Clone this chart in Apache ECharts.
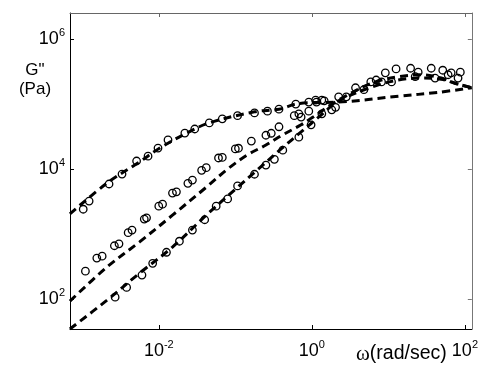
<!DOCTYPE html>
<html>
<head>
<meta charset="utf-8">
<script src="https://cdn.jsdelivr.net/npm/echarts@6/dist/echarts.min.js"></script>
<style>html,body{margin:0;padding:0;background:#fff;}#c{width:481px;height:369px;}</style>
</head>
<body>
<div id="c"></div>
<script>
// ---- data (ω in rad/s, G'' in Pa) ----
const omegaLineA = [6.9e-4, 2.09e-3, 5.62e-3, 0.0102, 0.0229, 0.0457, 0.178, 0.372, 0.617, 1.0, 2.24, 13.5, 44.7, 123];
const gLineA     = [2040, 6030, 12900, 20900, 35500, 51300, 75900, 83200, 100000, 105000, 107000, 132000, 151000, 178000];

const omegaLineB = [6.9e-4, 2.09e-3, 5.62e-3, 0.0151, 0.0417, 0.0794, 0.145, 0.251, 0.407, 0.724, 0.977, 2.24, 6.03, 13.5, 26.9, 49, 74, 123];
const gLineB     = [93, 309, 759, 1950, 5250, 10000, 16600, 23400, 33100, 47900, 60300, 115000, 209000, 263000, 282000, 251000, 209000, 178000];

const omegaLineC = [6.9e-4, 2.09e-3, 5.62e-3, 0.0151, 0.0417, 0.107, 0.178, 0.407, 0.724, 1.32, 2.24, 6.03, 13.5, 26.9, 49, 74, 123];
const gLineC     = [34.7, 95.5, 251, 631, 1950, 5250, 8900, 20900, 37200, 67600, 112000, 182000, 234000, 251000, 240000, 209000, 178000];

const omegaPtsA = [1.03e-3, 1.23e-3, 2.24e-3, 3.31e-3, 5.13e-3, 7.24e-3, 9.77e-3, 0.0132, 0.0219, 0.0295, 0.0457, 0.0676, 0.107, 0.178, 0.263, 0.372, 0.617, 0.912, 1.15, 1.45, 2.24, 3.72, 8.13, 11.0, 22.4, 40.7, 81.3];
const gPtsA     = [2410, 3220, 5890, 8380, 13300, 15800, 21000, 28000, 35700, 41300, 51300, 59300, 66100, 72900, 77600, 83200, 100000, 107000, 107000, 112000, 129000, 178000, 219000, 219000, 263000, 251000, 251000];

const omegaPtsB = [1.10e-3, 1.55e-3, 1.82e-3, 2.63e-3, 3.02e-3, 3.98e-3, 4.47e-3, 6.46e-3, 6.92e-3, 0.0100, 0.0112, 0.0151, 0.0170, 0.0240, 0.0275, 0.0363, 0.0417, 0.0603, 0.0676, 0.100, 0.110, 0.162, 0.251, 0.295, 0.372, 0.589, 0.676, 0.912, 1.12, 1.35, 1.82, 5.89, 9.12, 19.5, 36.3, 60.3, 87.1];
const gPtsB     = [269, 427, 457, 661, 708, 1050, 1150, 1700, 1780, 2690, 2880, 4270, 4470, 6030, 6760, 9550, 10500, 14800, 15100, 20400, 20900, 26900, 33100, 35500, 44700, 66100, 70800, 77600, 115000, 115000, 81300, 219000, 302000, 355000, 355000, 282000, 309000];

const omegaPtsC = [2.69e-3, 3.80e-3, 6.03e-3, 8.32e-3, 0.0126, 0.0186, 0.0275, 0.0398, 0.0562, 0.0794, 0.107, 0.178, 0.251, 0.324, 0.417, 0.676, 0.724, 0.977, 1.35, 2.04, 2.82, 4.79, 6.92, 12.6, 24.5, 51.3, 66.1];
const gPtsC     = [107, 151, 234, 355, 525, 776, 1150, 1660, 2690, 3470, 5500, 8320, 11500, 14100, 19500, 30900, 63100, 47900, 70800, 89100, 129000, 166000, 234000, 347000, 309000, 331000, 302000];

// tick labels (decade exponents)
const xTickExps = [-2, 0, 2];
const yTickExps = [2, 4, 6];

// ---- helpers ----
const L = v => Math.log10(v);
const pairs = (xs, ys) => xs.map((x, i) => [L(x), L(ys[i])]);

const FONT = "'Liberation Sans', Arial, sans-serif";
const supRich = {
  b: { fontSize: 18, lineHeight: 24, fontFamily: FONT, color: '#000' },
  s: { fontSize: 11, lineHeight: 4, verticalAlign: 'top', fontFamily: FONT, color: '#000' }
};
const pow10 = v => '{b|10}{s|' + Math.round(v) + '}';

const xMin = -3.16, xMax = 2.09, yMin = 1.54, yMax = 6.4;

const lineStyle = { color: '#000', width: 3, type: [8, 5] };
const dashed = (xs, ys) => ({
  type: 'line', data: pairs(xs, ys), showSymbol: false, smooth: 0.35,
  lineStyle: lineStyle, xAxisIndex: 0, yAxisIndex: 0, z: 2
});
const pts = (xs, ys) => ({
  type: 'scatter', data: pairs(xs, ys), symbol: 'circle', symbolSize: 7.5,
  itemStyle: { color: 'rgba(0,0,0,0)', borderColor: '#000', borderWidth: 1.3, opacity: 1 },
  xAxisIndex: 0, yAxisIndex: 0, z: 3
});

const chart = echarts.init(document.getElementById('c'), null, { renderer: 'canvas' });
chart.setOption({
  animation: false,
  backgroundColor: '#fff',
  grid: { left: 70, right: 7, top: 13, bottom: 40, containLabel: false },
  xAxis: [{
    type: 'value', min: xMin, max: xMax, position: 'bottom',
    axisLine: { onZero: false, lineStyle: { color: '#000', width: 1 } },
    axisTick: { inside: true, length: 4, customValues: xTickExps, lineStyle: { color: '#000' } },
    axisLabel: { customValues: xTickExps, margin: 10, formatter: pow10, rich: supRich },
    splitLine: { show: false }
  }, {
    type: 'value', min: xMin, max: xMax, position: 'top',
    axisLine: { onZero: false, lineStyle: { color: '#666', width: 1 } },
    axisTick: { inside: true, length: 4, customValues: xTickExps, lineStyle: { color: '#666' } },
    axisLabel: { show: false }, splitLine: { show: false }
  }],
  yAxis: [{
    type: 'value', min: yMin, max: yMax, position: 'left',
    axisLine: { show: true, onZero: false, lineStyle: { color: '#000', width: 1 } },
    axisTick: { show: true, inside: true, length: 4, customValues: yTickExps, lineStyle: { color: '#000' } },
    axisLabel: { customValues: yTickExps, margin: 5, formatter: pow10, rich: supRich },
    splitLine: { show: false }
  }, {
    type: 'value', min: yMin, max: yMax, position: 'right',
    axisLine: { show: true, onZero: false, lineStyle: { color: '#777', width: 1 } },
    axisTick: { show: true, inside: true, length: 4, customValues: yTickExps, lineStyle: { color: '#777' } },
    axisLabel: { show: false }, splitLine: { show: false }
  }],
  graphic: [{
    type: 'text', x: 35, y: 61,
    style: { text: 'G"\n(Pa)', font: '17px ' + FONT, fill: '#000', textAlign: 'center', lineHeight: 19 }
  }, {
    type: 'text', x: 356, y: 343,
    style: {
      text: '{w|ω}{t|(rad/sec)}', fill: '#000',
      rich: {
        w: { fontFamily: "'Liberation Serif', 'DejaVu Serif', serif", fontSize: 21, lineHeight: 22 },
        t: { fontFamily: FONT, fontSize: 19.5, lineHeight: 22 }
      }
    }
  }],
  series: [
    dashed(omegaLineA, gLineA),
    dashed(omegaLineB, gLineB),
    dashed(omegaLineC, gLineC),
    pts(omegaPtsA, gPtsA),
    pts(omegaPtsB, gPtsB),
    pts(omegaPtsC, gPtsC)
  ]
});
</script>
</body>
</html>
